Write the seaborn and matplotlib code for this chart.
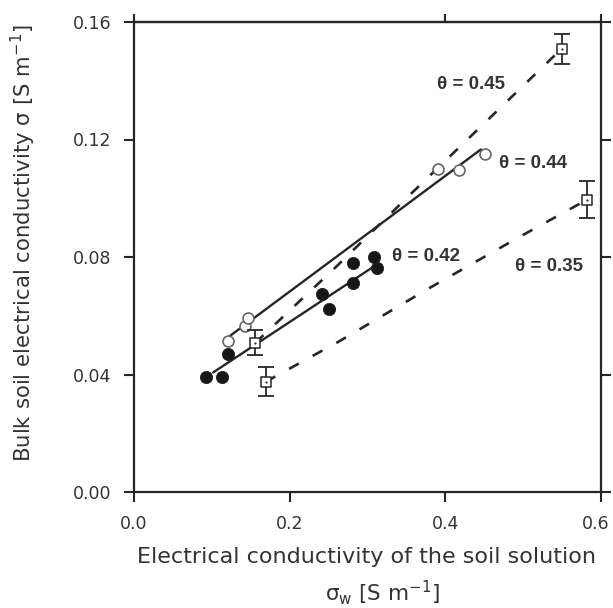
import matplotlib
matplotlib.use("Agg")
import matplotlib.pyplot as plt
import matplotlib.transforms as mtransforms
import seaborn as sns

# ---------------- data ----------------
open_x = [0.121, 0.143, 0.147, 0.390, 0.417, 0.451]          # theta = 0.44 measurements
open_y = [0.0515, 0.0566, 0.0593, 0.1098, 0.1095, 0.1149]
filled_x = [0.093, 0.113, 0.121, 0.242, 0.250, 0.281, 0.281, 0.308, 0.312]   # theta = 0.42
filled_y = [0.039, 0.039, 0.0471, 0.0675, 0.0624, 0.078, 0.0712, 0.080, 0.0763]
fit044_x = [0.1236, 0.4456]
fit044_y = [0.0532, 0.1166]
fit042_x = [0.1017, 0.3129]
fit042_y = [0.0407, 0.0776]
model045_x = [0.156, 0.261, 0.355, 0.455, 0.549]
model045_y = [0.0508, 0.0770, 0.1013, 0.1268, 0.1508]
model035_x = [0.169, 0.265, 0.378, 0.497, 0.582]
model035_y = [0.0375, 0.0515, 0.0692, 0.0871, 0.0995]
sq_x = [0.156, 0.169, 0.5497, 0.582]
sq_y = [0.0508, 0.0375, 0.1508, 0.0995]
sq_err = [0.0042, 0.0049, 0.0051, 0.0063]
theta_labels = ["θ = 0.45", "θ = 0.44", "θ = 0.42", "θ = 0.35"]
xticks = [0.0, 0.2, 0.4, 0.6]
yticks = [0.00, 0.04, 0.08, 0.12, 0.16]

# ---------------- figure ----------------
sns.set_theme(style="ticks")
plt.rcParams["font.family"] = ["DejaVu Sans"]
ink = "#262626"
txt = "#333333"

fig = plt.figure(figsize=(6.13, 6.08), dpi=100)
ax = fig.add_axes([134 / 613, 1 - 492 / 608, 467 / 613, 470 / 608])

dash = (0, (4.2, 6.0))
sns.lineplot(x=model045_x, y=model045_y, ax=ax, color=ink, lw=1.9,
             linestyle=dash, estimator=None, sort=False)
sns.lineplot(x=model035_x, y=model035_y, ax=ax, color=ink, lw=1.9,
             linestyle=dash, estimator=None, sort=False)
sns.lineplot(x=fit044_x, y=fit044_y, ax=ax, color=ink, lw=1.7,
             estimator=None, sort=False)
sns.lineplot(x=fit042_x, y=fit042_y, ax=ax, color=ink, lw=1.7,
             estimator=None, sort=False)

sns.scatterplot(x=open_x, y=open_y, ax=ax, s=62, color="white",
                edgecolor="#666666", linewidth=1.2, zorder=4)
sns.scatterplot(x=filled_x, y=filled_y, ax=ax, s=78, color="#161616",
                edgecolor="#161616", linewidth=0.5, zorder=4)

ax.errorbar(sq_x, sq_y, yerr=sq_err, fmt="none", ecolor=ink,
            elinewidth=1.3, capsize=5.5, capthick=1.3, zorder=5)
sns.scatterplot(x=sq_x, y=sq_y, ax=ax, marker="s", s=52, color="white",
                edgecolor=ink, linewidth=1.1, zorder=6)
sns.scatterplot(x=sq_x, y=sq_y, ax=ax, marker="o", s=2.5, color=ink,
                edgecolor=ink, linewidth=0, zorder=7)

# theta annotations
label_pos = [(0.4327, 0.1386), (0.5125, 0.1119), (0.3747, 0.0803), (0.533, 0.0766)]
for lab, (lx, ly) in zip(theta_labels, label_pos):
    ax.text(lx, ly, lab, ha="center", va="center", fontsize=13.5,
            fontweight="bold", color=txt, family=["Liberation Sans", "DejaVu Sans"])

# axes
ax.set_xlim(0, 0.6)
ax.set_ylim(0, 0.16)
ax.set_xticks(xticks)
ax.set_xticklabels([f"{v:.1f}" for v in xticks])
ax.set_yticks(yticks)
ax.set_yticklabels([f"{v:.2f}" for v in yticks])
ax.tick_params(axis="both", direction="out", length=7.5, width=1.5,
               color=ink, labelsize=12.5, labelcolor=txt)
ax.tick_params(axis="x", pad=9)
ax.tick_params(axis="y", pad=9, right=True)
for sp in ax.spines.values():
    sp.set_linewidth(1.6)
    sp.set_color(ink)

# keep the last x tick label inside the canvas
last = ax.get_xticklabels()[-1]
last.set_transform(last.get_transform() +
                   mtransforms.ScaledTranslation(-5 / 100, 0, fig.dpi_scale_trans))

sec = ax.secondary_xaxis("top")
sec.set_xticks([0.0, 0.4, 0.6])
sec.set_xticklabels([])
sec.tick_params(direction="out", length=6, width=1.5, color=ink)
sec.spines["top"].set_linewidth(1.6)
sec.spines["top"].set_color(ink)

ax.set_xlabel("")
ax.set_ylabel(r"Bulk soil electrical conductivity σ [S m$^{-1}$]",
              fontsize=15.3, color=txt)
ax.yaxis.set_label_coords(-0.205, 0.53)

ax.text(0.497, -0.138, "Electrical conductivity of the soil solution",
        transform=ax.transAxes, ha="center", va="center", fontsize=16, color=txt)
ax.text(0.533, -0.213, r"σ$_{\mathregular{w}}$ [S m$^{-1}$]",
        transform=ax.transAxes, ha="center", va="center", fontsize=15.5, color=txt)

fig.savefig("out.png", dpi=100)
